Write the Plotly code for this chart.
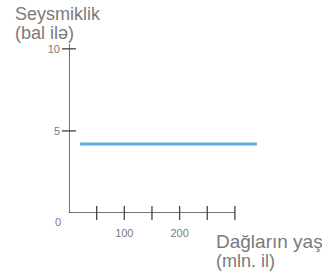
import plotly.graph_objects as go

# Data
age = [20, 340]              # mountain age (mln. years)
seismicity = [4.2, 4.2]      # seismicity (points)
x_ticks = [50, 100, 150, 200, 250, 300]
x_tick_labels = ["", "100", "", "200", "", ""]
y_ticks = [5, 10]
y_tick_labels = ["5", "10"]

W, H = 322, 276
axis_col = "#444444"
text_col = "#7a7a7a"
font_fam = "Liberation Sans, Arial, sans-serif"

fig = go.Figure()

# main series
fig.add_trace(go.Scatter(x=age, y=seismicity, mode="lines",
                         line=dict(color="#5ab0dc", width=3),
                         hoverinfo="skip", showlegend=False))

# crossing tick marks
fig.add_trace(go.Scatter(x=x_ticks, y=[0] * len(x_ticks), mode="markers",
                         marker=dict(symbol="line-ns", size=10,
                                     line=dict(color=axis_col, width=1.3)),
                         cliponaxis=False, hoverinfo="skip", showlegend=False))
fig.add_trace(go.Scatter(x=[0] * len(y_ticks), y=y_ticks, mode="markers",
                         marker=dict(symbol="line-ew", size=10,
                                     line=dict(color=axis_col, width=1.3)),
                         cliponaxis=False, hoverinfo="skip", showlegend=False))

# axis lines
fig.add_shape(type="line", x0=0, x1=max(x_ticks), y0=0, y1=0,
              line=dict(color=axis_col, width=1.5))
fig.add_shape(type="line", x0=0, x1=0, y0=0, y1=10.3,
              line=dict(color=axis_col, width=1.5))

fig.update_xaxes(range=[0, 457.5], domain=[69 / W, 1], automargin=False,
                 showgrid=False, zeroline=False, showline=False,
                 tickvals=x_ticks, ticktext=x_tick_labels, ticks="",
                 ticklabelstandoff=12,
                 tickfont=dict(size=11, color=text_col, family=font_fam))
fig.update_yaxes(range=[0, 12], domain=[(H - 213) / H, (H - 16) / H],
                 automargin=False,
                 showgrid=False, zeroline=False, showline=False,
                 tickvals=y_ticks, ticktext=y_tick_labels, ticks="",
                 ticklabelstandoff=8,
                 tickfont=dict(size=11, color=text_col, family=font_fam))

ann_font = dict(size=18, color=text_col, family=font_fam)
annotations = [
    dict(text="Seysmiklik", x=13 / W, y=(H - 14) / H),
    dict(text="(bal ilə)", x=13 / W, y=(H - 33) / H),
    dict(text="Dağların yaşı", x=214 / W, y=(H - 241) / H,
         font=dict(size=19, color=text_col, family=font_fam)),
    dict(text="(mln. il)", x=214 / W, y=(H - 261) / H),
]
for a in annotations:
    a.setdefault("font", ann_font)
    fig.add_annotation(xref="paper", yref="paper", showarrow=False,
                       xanchor="left", yanchor="middle", **a)
fig.add_annotation(xref="x", yref="y", x=0, y=0, text="0", showarrow=False,
                   xanchor="right", yanchor="top", xshift=-6, yshift=-1,
                   font=dict(size=11, color=text_col, family=font_fam))

fig.update_layout(width=W, height=H, margin=dict(l=0, r=0, t=0, b=0),
                  plot_bgcolor="white", paper_bgcolor="white")

fig.write_html("out.html", config={"displayModeBar": False},
               post_script="document.body.style.margin='0';"
                           "document.body.style.overflow='hidden';")
